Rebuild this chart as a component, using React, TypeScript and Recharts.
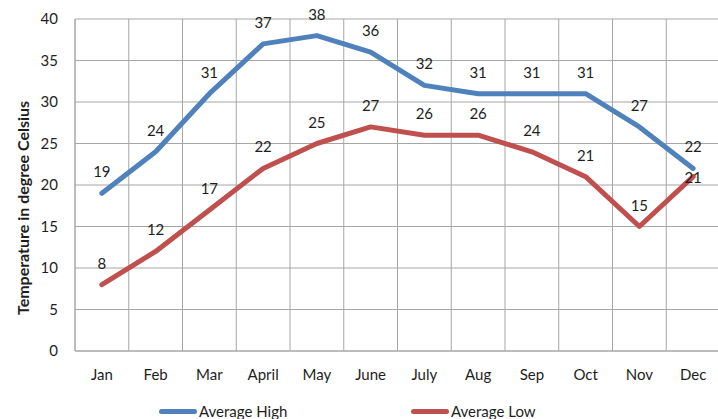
import { LineChart, Line, XAxis, YAxis, CartesianGrid, LabelList, Legend } from "recharts";

const months = ["Jan", "Feb", "Mar", "April", "May", "June", "July", "Aug", "Sep", "Oct", "Nov", "Dec"];
const avgHigh = [19, 24, 31, 37, 38, 36, 32, 31, 31, 31, 27, 22];
const avgLow = [8, 12, 17, 22, 25, 27, 26, 26, 24, 21, 15, 21];
const yTicks = [0, 5, 10, 15, 20, 25, 30, 35, 40];

const data = months.map((month, i) => ({ month, high: avgHigh[i], low: avgLow[i] }));

const FONT = "Lato, 'Open Sans', sans-serif";
const TEXT = "#1e1e1e";
const GRID = "#a6a6a6";
const BLUE = "#4f81bd";
const RED = "#c0504d";

// value labels sit above each point; Dec low is drawn right on its point
const makeLabel = (centeredIndex: number) => (props: any) => {
  const { x, y, value, index } = props;
  const dy = index === centeredIndex ? 0 : -22;
  return (
    <text
      x={x}
      y={y + dy}
      textAnchor="middle"
      dominantBaseline="central"
      fontFamily={FONT}
      fontSize={15}
      fill={TEXT}
    >
      {value}
    </text>
  );
};

const renderLegend = ({ payload }: any) => (
  <div
    style={{
      display: "flex",
      paddingLeft: 159,
      height: 18,
      alignItems: "center",
      fontFamily: FONT,
      fontSize: 15,
      color: TEXT,
    }}
  >
    {(payload || []).map((entry: any) => (
      <div key={entry.value} style={{ display: "flex", alignItems: "center", width: 252 }}>
        <span
          style={{ width: 38, height: 5, borderRadius: 3, background: entry.color, marginRight: 2 }}
        />
        <span>{entry.value}</span>
      </div>
    ))}
  </div>
);

export default function App() {
  return (
    <div style={{ position: "absolute", left: 0, top: 0, width: 718, height: 419, overflow: "hidden", background: "#fff" }}>
      <LineChart width={720} height={419} data={data} margin={{ top: 19, right: 0, left: 0, bottom: 0 }}>
        <CartesianGrid
          stroke={GRID}
          strokeWidth={1}
          verticalCoordinatesGenerator={({ offset }: any) =>
            Array.from({ length: months.length + 1 }, (_, i) => offset.left + (offset.width * i) / months.length)
          }
        />
        <XAxis
          dataKey="month"
          scale="band"
          height={68}
          tickSize={0}
          tickMargin={18}
          axisLine={{ stroke: GRID }}
          tickLine={false}
          tick={{ fontFamily: FONT, fontSize: 15, fill: TEXT }}
          interval={0}
        />
        <YAxis
          width={75}
          domain={[0, 40]}
          ticks={yTicks}
          tickSize={0}
          tickMargin={17}
          axisLine={{ stroke: GRID }}
          tickLine={false}
          tick={{ fontFamily: FONT, fontSize: 15, fill: TEXT }}
          label={() => (
            <text
              x={22}
              y={208}
              transform="rotate(-90, 22, 208)"
              textAnchor="middle"
              dominantBaseline="central"
              fontFamily={FONT}
              fontSize={16}
              fontWeight="bold"
              fill={TEXT}
            >
              Temperature in degree Celsius
            </text>
          )}
        />
        <Legend
          layout="horizontal"
          verticalAlign="middle"
          align="center"
          wrapperStyle={{ left: 0, top: 402, width: 718 }}
          content={renderLegend}
        />
        <Line
          type="linear"
          dataKey="high"
          name="Average High"
          stroke={BLUE}
          strokeWidth={5}
          strokeLinejoin="round"
          strokeLinecap="round"
          dot={false}
          activeDot={false}
          isAnimationActive={false}
        >
          <LabelList dataKey="high" content={makeLabel(-1)} />
        </Line>
        <Line
          type="linear"
          dataKey="low"
          name="Average Low"
          stroke={RED}
          strokeWidth={5}
          strokeLinejoin="round"
          strokeLinecap="round"
          dot={false}
          activeDot={false}
          isAnimationActive={false}
        >
          <LabelList dataKey="low" content={makeLabel(11)} />
        </Line>
      </LineChart>
    </div>
  );
}
